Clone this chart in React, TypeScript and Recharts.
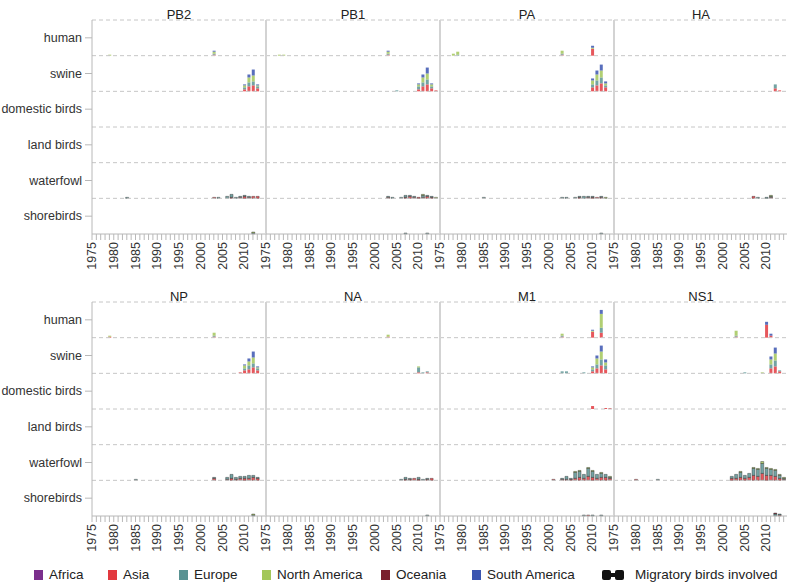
import React from 'react';
import { ComposedChart, Bar, XAxis, YAxis, ReferenceLine } from 'recharts';

// ---------- categories ----------
const HOSTS = ['shorebirds', 'waterfowl', 'land birds', 'domestic birds', 'swine', 'human']; // bottom -> top
const REGIONS = ['Africa', 'Asia', 'Europe', 'North America', 'Oceania', 'South America'];
const REGION_COLORS = ['#7b2f8c', '#e2393f', '#5a9393', '#a3c75a', '#7a1f2e', '#3b55b0'];
const YEAR_TICKS = [
  1975, 1976, 1977, 1978, 1979, 1980, 1981, 1982, 1983, 1984, 1985, 1986, 1987, 1988,
  1989, 1990, 1991, 1992, 1993, 1994, 1995, 1996, 1997, 1998, 1999, 2000, 2001, 2002,
  2003, 2004, 2005, 2006, 2007, 2008, 2009, 2010, 2011, 2012, 2013, 2014,
];
const ROW_CAP = 36; // sequences per host row

// ---------- series: [year, Africa, Asia, Europe, North America, Oceania, South America] ----------
const PB2_human = [[1979, 0, 0, 0, 1, 0, 0], [2003, 0, 1, 1, 2, 0, 1]];
const PB2_swine = [[2010, 0, 2, 2, 2, 0, 1], [2011, 0, 5, 4, 5, 0, 3], [2012, 0, 6, 4, 6, 0, 6], [2013, 0, 3, 2, 1, 0, 1]];
const PB2_waterfowl = [
  [1983, 0, 0, 1, 0, 0, 0], [2003, 0, 1, 0, 0, 0, 0], [2004, 0, 0, 1, 0, 0, 0], [2006, 0, 0, 2, 0, 0, 0],
  [2007, 0, 1, 3, 0, 0, 0], [2008, 0, 0, 1, 0, 0, 0], [2009, 0, 1, 1, 0, 0, 0], [2010, 0, 2, 1, 0, 0, 0],
  [2011, 0, 1, 1, 0, 0, 0], [2012, 0, 2, 0, 0, 0, 0], [2013, 0, 2, 0, 0, 0, 0],
];
const PB2_shorebirds = [[2012, 0, 0, 1, 1, 0, 0]];

const PB1_human = [[1978, 0, 0, 0, 1, 0, 0], [1979, 0, 0, 0, 1, 0, 0], [2003, 0, 1, 1, 2, 0, 1]];
const PB1_swine = [[2005, 0, 0, 1, 0, 0, 0], [2010, 0, 2, 3, 2, 0, 1], [2011, 0, 5, 4, 5, 0, 3], [2012, 0, 7, 5, 6, 0, 6], [2013, 0, 3, 2, 2, 0, 1], [2014, 0, 1, 0, 0, 0, 0]];
const PB1_waterfowl = [
  [2003, 0, 1, 1, 0, 0, 0], [2004, 0, 0, 1, 0, 0, 0], [2006, 0, 0, 1, 0, 0, 0], [2007, 0, 1, 2, 0, 0, 0],
  [2008, 0, 2, 1, 0, 0, 0], [2009, 0, 1, 1, 0, 0, 0], [2010, 0, 1, 0, 0, 0, 0], [2011, 0, 1, 2, 1, 0, 0],
  [2012, 0, 2, 1, 0, 0, 0], [2013, 0, 1, 1, 0, 0, 0], [2014, 0, 0, 0, 1, 0, 0],
];
const PB1_shorebirds = [[2007, 0, 0, 1, 0, 0, 0], [2012, 0, 0, 1, 0, 0, 0]];

const PA_human = [[1978, 0, 0, 0, 2, 0, 0], [1979, 0, 0, 1, 3, 0, 0], [2003, 0, 1, 1, 3, 0, 0], [2010, 0, 7, 0, 1, 0, 2]];
const PA_swine = [[2010, 0, 4, 3, 4, 0, 2], [2011, 0, 6, 5, 6, 0, 4], [2012, 0, 8, 6, 7, 0, 6], [2013, 0, 4, 2, 2, 0, 2]];
const PA_waterfowl = [
  [1985, 0, 0, 1, 0, 0, 0], [2003, 0, 0, 1, 0, 0, 0], [2004, 0, 0, 1, 0, 0, 0], [2006, 0, 0, 1, 0, 0, 0],
  [2007, 0, 1, 1, 0, 0, 0], [2008, 0, 0, 2, 0, 0, 0], [2009, 0, 1, 1, 0, 0, 0], [2010, 0, 1, 1, 0, 0, 0],
  [2011, 0, 1, 0, 0, 0, 0], [2012, 0, 1, 1, 0, 0, 0], [2013, 0, 0, 0, 1, 0, 0],
];
const PA_shorebirds = [[2012, 0, 0, 1, 0, 0, 0]];

const HA_swine = [[2012, 0, 3, 4, 0, 0, 0], [2013, 0, 1, 0, 0, 0, 0]];
const HA_waterfowl = [[2007, 0, 2, 0, 0, 0, 0], [2008, 0, 0, 1, 0, 0, 0], [2010, 0, 0, 1, 0, 0, 0], [2011, 0, 1, 1, 1, 0, 0]];

const NP_human = [[1979, 0, 1, 0, 1, 0, 0], [2003, 0, 1, 1, 3, 0, 0]];
const NP_swine = [[2009, 0, 1, 0, 0, 0, 0], [2010, 0, 3, 2, 3, 0, 1], [2011, 0, 4, 4, 4, 0, 3], [2012, 0, 6, 4, 6, 0, 6], [2013, 0, 3, 2, 1, 0, 1]];
const NP_waterfowl = [
  [1985, 0, 0, 1, 0, 0, 0], [2003, 0, 2, 1, 0, 0, 0], [2006, 0, 1, 2, 0, 0, 0], [2007, 0, 2, 4, 0, 0, 0],
  [2008, 0, 1, 2, 0, 0, 0], [2009, 0, 2, 2, 0, 0, 0], [2010, 0, 2, 2, 0, 0, 0], [2011, 0, 2, 3, 0, 0, 0],
  [2012, 0, 3, 2, 0, 0, 0], [2013, 0, 2, 1, 0, 0, 0],
];
const NP_shorebirds = [[2012, 0, 0, 1, 1, 0, 0]];

const NA_human = [[2003, 0, 1, 0, 2, 0, 0]];
const NA_swine = [[2010, 0, 1, 5, 1, 0, 0], [2011, 0, 0, 1, 0, 0, 0], [2012, 0, 1, 1, 0, 0, 0]];
const NA_waterfowl = [
  [2006, 0, 0, 1, 0, 0, 0], [2007, 0, 1, 2, 0, 0, 0], [2008, 0, 1, 1, 0, 0, 0], [2009, 0, 2, 0, 0, 0, 0],
  [2010, 0, 1, 2, 0, 0, 0], [2011, 0, 0, 1, 0, 0, 0], [2012, 0, 1, 1, 0, 0, 0], [2013, 0, 2, 0, 0, 0, 0],
];
const NA_shorebirds = [[2012, 0, 0, 1, 0, 0, 0]];

const M1_human = [[2003, 0, 1, 1, 2, 0, 0], [2010, 0, 6, 0, 1, 0, 1], [2012, 0, 5, 5, 14, 0, 4]];
const M1_swine = [
  [2003, 0, 0, 2, 0, 0, 0], [2004, 0, 0, 2, 0, 0, 0], [2008, 0, 0, 1, 0, 0, 0], [2010, 0, 2, 2, 2, 0, 1],
  [2011, 0, 5, 4, 6, 0, 3], [2012, 0, 8, 6, 8, 0, 6], [2013, 0, 4, 4, 3, 0, 3],
];
const M1_domestic = [[2010, 0, 3, 0, 0, 0, 0], [2013, 0, 1, 0, 0, 0, 0], [2014, 0, 1, 0, 0, 0, 0]];
const M1_waterfowl = [
  [2001, 0, 1, 0, 0, 0, 0], [2003, 0, 1, 1, 0, 0, 0], [2004, 0, 1, 3, 0, 0, 0], [2005, 0, 1, 1, 0, 0, 0],
  [2006, 0, 2, 6, 1, 0, 0], [2007, 0, 3, 6, 1, 0, 0], [2008, 0, 2, 4, 0, 0, 0], [2009, 0, 4, 8, 1, 0, 0],
  [2010, 0, 3, 6, 1, 0, 0], [2011, 0, 2, 4, 0, 0, 0], [2012, 0, 3, 4, 1, 0, 0], [2013, 0, 3, 3, 0, 0, 0],
  [2014, 0, 2, 1, 1, 0, 0],
];
const M1_shorebirds = [[2008, 0, 0, 1, 0, 0, 0], [2009, 0, 1, 0, 0, 0, 0], [2010, 0, 0, 1, 0, 0, 0], [2012, 0, 0, 1, 0, 0, 0]];

const NS1_human = [[2003, 0, 1, 1, 5, 0, 0], [2010, 0, 13, 0, 0, 0, 3], [2011, 0, 2, 0, 0, 0, 2]];
const NS1_swine = [[2005, 0, 0, 1, 0, 0, 0], [2009, 0, 0, 0, 1, 0, 0], [2011, 0, 5, 4, 5, 0, 3], [2012, 0, 7, 6, 7, 0, 6], [2013, 0, 2, 1, 0, 0, 0]];
const NS1_waterfowl = [
  [1980, 0, 1, 0, 0, 0, 0], [1985, 0, 0, 1, 0, 0, 0], [2002, 0, 2, 2, 0, 0, 0], [2003, 0, 2, 4, 0, 0, 0],
  [2004, 0, 3, 5, 1, 0, 0], [2005, 0, 2, 3, 0, 0, 0], [2006, 0, 3, 4, 0, 0, 0], [2007, 0, 5, 7, 1, 0, 0],
  [2008, 0, 4, 7, 1, 0, 0], [2009, 0, 7, 10, 2, 0, 0], [2010, 0, 5, 7, 1, 0, 0], [2011, 0, 5, 6, 1, 0, 0],
  [2012, 0, 4, 6, 1, 0, 0], [2013, 0, 2, 3, 1, 0, 0], [2014, 0, 1, 1, 1, 0, 0],
];
const NS1_shorebirds = [[2012, 0, 0, 2, 0, 1, 0], [2013, 0, 1, 1, 0, 0, 0]];

const NONE: number[][] = [];

// rows listed bottom -> top, matching HOSTS
const PANELS_TOP = [
  { name: 'PB2', rows: [PB2_shorebirds, PB2_waterfowl, NONE, NONE, PB2_swine, PB2_human] },
  { name: 'PB1', rows: [PB1_shorebirds, PB1_waterfowl, NONE, NONE, PB1_swine, PB1_human] },
  { name: 'PA', rows: [PA_shorebirds, PA_waterfowl, NONE, NONE, PA_swine, PA_human] },
  { name: 'HA', rows: [NONE, HA_waterfowl, NONE, NONE, HA_swine, NONE] },
];
const PANELS_BOTTOM = [
  { name: 'NP', rows: [NP_shorebirds, NP_waterfowl, NONE, NONE, NP_swine, NP_human] },
  { name: 'NA', rows: [NA_shorebirds, NA_waterfowl, NONE, NONE, NA_swine, NA_human] },
  { name: 'M1', rows: [M1_shorebirds, M1_waterfowl, NONE, M1_domestic, M1_swine, M1_human] },
  { name: 'NS1', rows: [NS1_shorebirds, NS1_waterfowl, NONE, NONE, NS1_swine, NS1_human] },
];

function buildData(rows: number[][][]) {
  return YEAR_TICKS.map((year) => {
    const o: Record<string, number> = { year };
    rows.forEach((list, r) => {
      const rec = list.find((d) => d[0] === year);
      const vals = rec ? rec.slice(1) : [0, 0, 0, 0, 0, 0];
      let sum = 0;
      vals.forEach((v, k) => {
        o[`r${r}k${k}`] = v;
        sum += v;
      });
      if (r < rows.length - 1) o[`s${r}`] = ROW_CAP - sum;
    });
    return o;
  });
}

const FONT = '"Liberation Sans", Arial, Helvetica, sans-serif';
const AXIS_GRAY = '#b8b8b8';
const PANEL_W = 174;
const Y_W = 92;
const PLOT_H = 214;
const TOP_M = 20;
const X_H = 40;

const YearTick = (props: any) => {
  const { x, y, payload } = props;
  if (payload.value % 5 !== 0) return <g />;
  return (
    <text
      x={x}
      y={y}
      transform={`rotate(-90, ${x}, ${y})`}
      textAnchor="end"
      dominantBaseline="central"
      fontSize={12.5}
      fontFamily={FONT}
      fill="#333"
    >
      {payload.value}
    </text>
  );
};

const HostTick = (props: any) => {
  const { x, y, payload } = props;
  return (
    <text
      x={x}
      y={y}
      textAnchor="end"
      dominantBaseline="central"
      fontSize={12.5}
      fontFamily={FONT}
      fill="#333"
      style={{ whiteSpace: 'pre' }}
    >
      {HOSTS[Math.floor(payload.value / ROW_CAP)]}
    </text>
  );
};

function Panel({ name, rows, first }: { name: string; rows: number[][][]; first: boolean }) {
  const data = buildData(rows);
  const width = first ? Y_W + PANEL_W : PANEL_W;
  const bars: React.ReactNode[] = [];
  for (let r = 0; r < 6; r++) {
    const outlined = r <= 1; // wild-bird rows: migratory birds involved
    for (let k = 0; k < 6; k++) {
      bars.push(
        <Bar
          key={`r${r}k${k}`}
          dataKey={`r${r}k${k}`}
          stackId="a"
          fill={REGION_COLORS[k]}
          fillOpacity={0.85}
          stroke={outlined ? '#2b2b2b' : 'none'}
          strokeWidth={outlined ? 0.4 : 0}
          isAnimationActive={false}
        />
      );
    }
    if (r < 5) {
      bars.push(
        <Bar key={`s${r}`} dataKey={`s${r}`} stackId="a" fill="transparent" isAnimationActive={false} />
      );
    }
  }
  const lines = [1, 2, 3, 4, 5, 6].map((i) => (
    <ReferenceLine
      key={`h${i}`}
      y={i * ROW_CAP}
      stroke="#c6c6c6"
      strokeDasharray="4 3"
      strokeWidth={1}
    />
  ));
  return (
    <div style={{ position: 'relative', width, height: TOP_M + PLOT_H + X_H }}>
      <div
        style={{
          position: 'absolute',
          left: first ? Y_W : 0,
          width: PANEL_W,
          top: 7,
          textAlign: 'center',
          fontSize: 13,
          fontFamily: FONT,
          color: '#222',
          lineHeight: '16px',
        }}
      >
        {name}
      </div>
      <ComposedChart
        width={width}
        height={TOP_M + PLOT_H + X_H}
        data={data}
        margin={{ top: TOP_M, right: 0, bottom: 0, left: 0 }}
        barSize={3}
      >
        <XAxis
          dataKey="year"
          type="number"
          domain={[1975, 2015]}
          ticks={YEAR_TICKS}
          interval={0}
          height={X_H}
          tick={<YearTick />}
          tickSize={6}
          tickMargin={2}
          stroke={AXIS_GRAY}
          tickLine={{ stroke: AXIS_GRAY }}
          axisLine={{ stroke: AXIS_GRAY }}
          allowDataOverflow
        />
        {first ? (
          <YAxis
            type="number"
            domain={[0, ROW_CAP * 6]}
            ticks={[18, 54, 90, 126, 162, 198]}
            width={Y_W}
            tickSize={7}
            tickMargin={3}
            interval={0}
            tick={<HostTick />}
            tickLine={{ stroke: AXIS_GRAY }}
            axisLine={{ stroke: AXIS_GRAY }}
          />
        ) : (
          <YAxis hide type="number" domain={[0, ROW_CAP * 6]} />
        )}
        {lines}
        {!first && <ReferenceLine x={1975} stroke="#d3d3d3" strokeWidth={2} />}
        {bars}
      </ComposedChart>
    </div>
  );
}

const LEGEND_X = [34, 108, 179, 262, 381, 472];

function LegendRow() {
  const base: React.CSSProperties = {
    position: 'absolute',
    top: 567,
    fontSize: 13.5,
    fontFamily: FONT,
    color: '#222',
    lineHeight: '16px',
    whiteSpace: 'nowrap',
  };
  return (
    <>
      {REGIONS.map((r, i) => (
        <React.Fragment key={r}>
          <div
            style={{
              position: 'absolute',
              left: LEGEND_X[i],
              top: 570,
              width: 9,
              height: 10,
              background: REGION_COLORS[i],
            }}
          />
          <div style={{ ...base, left: LEGEND_X[i] + 15 }}>{r}</div>
        </React.Fragment>
      ))}
      <svg width={22} height={10} style={{ position: 'absolute', left: 602, top: 570 }}>
        <rect x={0} y={0} width={9} height={10} rx={2} fill="#111" />
        <rect x={13} y={0} width={9} height={10} rx={2} fill="#111" />
        <rect x={7} y={3} width={8} height={4} fill="#111" />
      </svg>
      <div style={{ ...base, left: 635 }}>Migratory birds involved</div>
    </>
  );
}

export default function App() {
  return (
    <div
      style={{
        position: 'absolute',
        left: 0,
        top: 0,
        width: 787,
        height: 585,
        background: '#fff',
        overflow: 'hidden',
        fontFamily: FONT,
      }}
    >
      <style>{'.recharts-surface{overflow:visible}.recharts-wrapper{overflow:visible}'}</style>
      <div style={{ position: 'absolute', left: 0, top: 0, display: 'flex' }}>
        {PANELS_TOP.map((p, i) => (
          <Panel key={p.name} name={p.name} rows={p.rows} first={i === 0} />
        ))}
      </div>
      <div style={{ position: 'absolute', left: 0, top: 282, display: 'flex' }}>
        {PANELS_BOTTOM.map((p, i) => (
          <Panel key={p.name} name={p.name} rows={p.rows} first={i === 0} />
        ))}
      </div>
      <LegendRow />
    </div>
  );
}
